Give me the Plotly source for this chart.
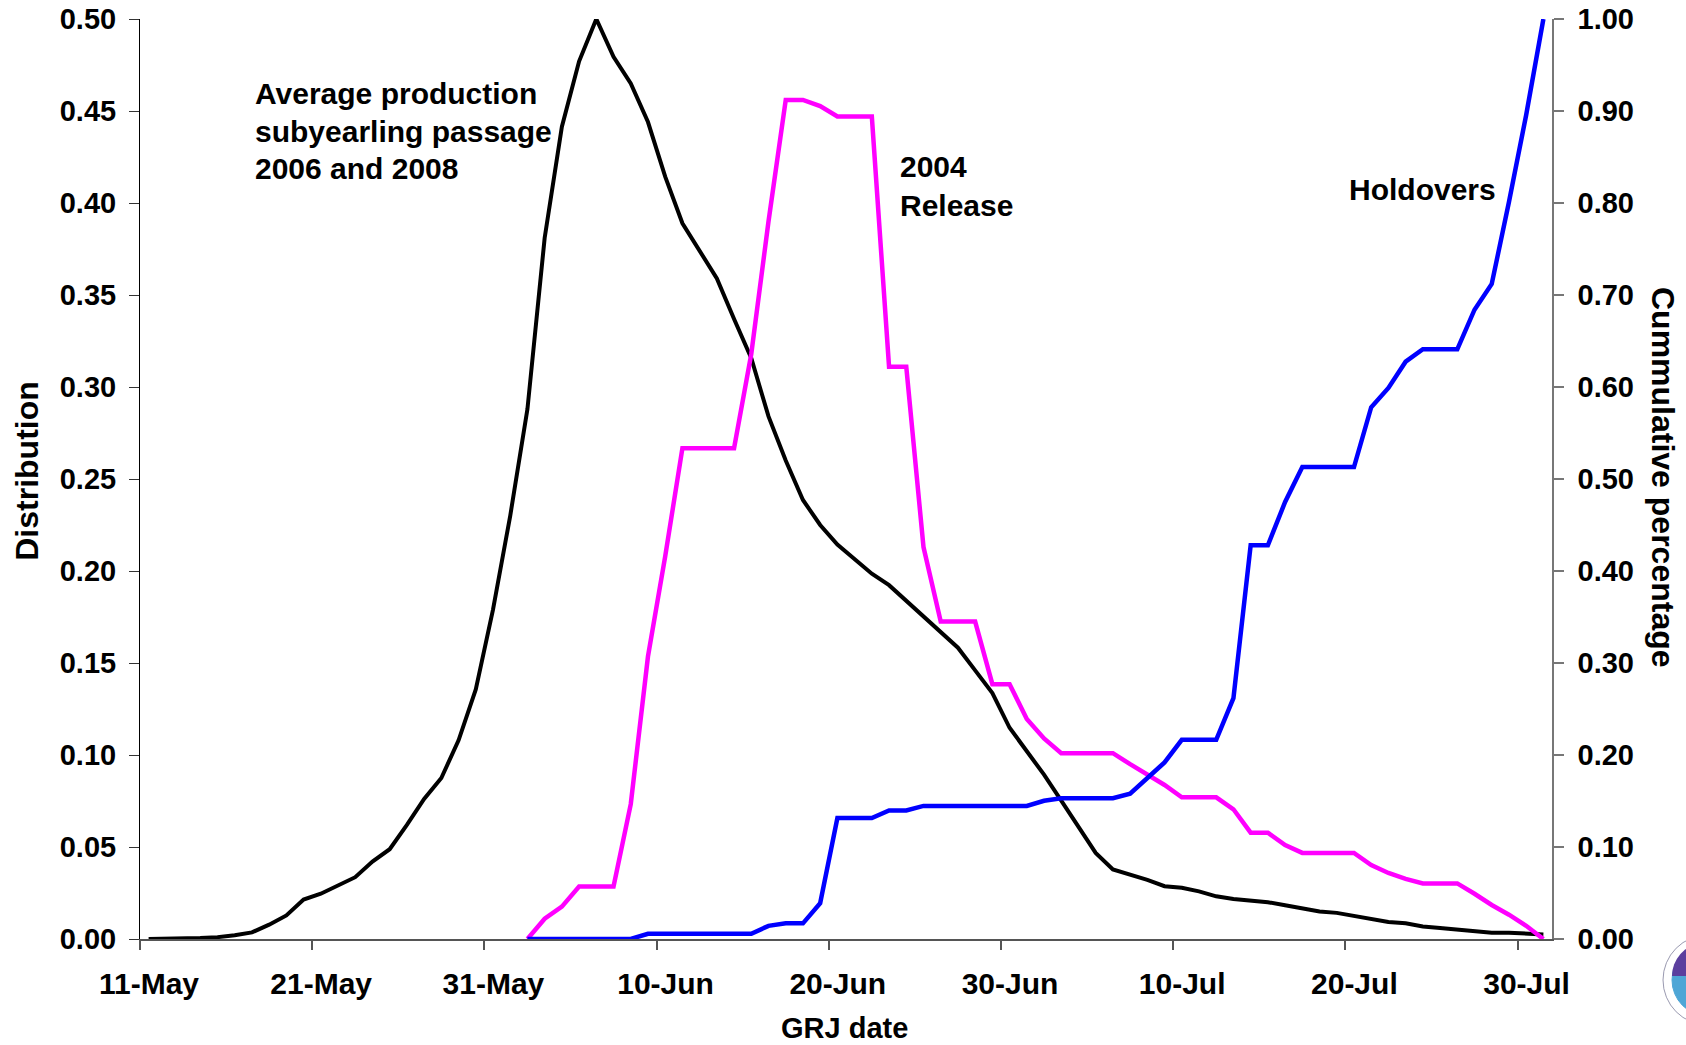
import math
import datetime as dt
import plotly.graph_objects as go

# ---------------- data ----------------
start_date = dt.date(2008, 5, 11)
n_days = 82  # 11-May .. 31-Jul

avg_production = [
    0.0, 0.0, 0.0, 0.0005, 0.001, 0.002, 0.0036, 0.0078, 0.0128, 0.0214,
    0.0246, 0.0289, 0.0336, 0.0421, 0.0488, 0.062, 0.0761, 0.0875, 0.108, 0.1356,
    0.179, 0.230, 0.288, 0.381, 0.4415, 0.477, 0.500, 0.4795, 0.465, 0.444,
    0.4143, 0.389, 0.374, 0.359, 0.337, 0.3156, 0.284, 0.260, 0.2386, 0.225,
    0.2144, 0.2065, 0.1985, 0.1923, 0.1838, 0.1753, 0.1668, 0.1583, 0.146, 0.1337,
    0.1148, 0.1025, 0.0893, 0.0752, 0.061, 0.0468, 0.0378, 0.035, 0.0321, 0.0287,
    0.0278, 0.0259, 0.0232, 0.0217, 0.021, 0.020, 0.0183, 0.0166, 0.0149, 0.0142,
    0.0125, 0.0108, 0.0092, 0.0085, 0.0068, 0.006, 0.0051, 0.0043, 0.0034, 0.0034,
    0.0027, 0.0025,
]

release_offset = 22  # first day of the 2004 release / holdover series (2-Jun)
release_2004 = [
    0.0, 0.011, 0.0176, 0.0285, 0.0285, 0.0285, 0.0733, 0.1536, 0.208, 0.2667,
    0.2667, 0.2667, 0.2667, 0.318, 0.39, 0.456, 0.456, 0.4527, 0.447, 0.447,
    0.447, 0.311, 0.311, 0.213, 0.1725, 0.1725, 0.1725, 0.1385, 0.1385, 0.1196,
    0.109, 0.101, 0.101, 0.101, 0.101, 0.095, 0.0893, 0.0837, 0.077, 0.077,
    0.077, 0.0705, 0.0578, 0.0578, 0.051, 0.0468, 0.0468, 0.0468, 0.0468, 0.0402,
    0.0359, 0.0327, 0.0302, 0.0302, 0.0302, 0.0246, 0.0185, 0.0132, 0.0072, 0.0,
]

holdovers = [
    0.0, 0.0, 0.0, 0.0, 0.0, 0.0, 0.0, 0.0057, 0.0057, 0.0057,
    0.0057, 0.0057, 0.0057, 0.0057, 0.0143, 0.017, 0.017, 0.0389, 0.1315, 0.1315,
    0.1315, 0.1398, 0.1398, 0.1447, 0.1447, 0.1447, 0.1447, 0.1447, 0.1447, 0.1447,
    0.1503, 0.153, 0.153, 0.153, 0.153, 0.158, 0.175, 0.192, 0.2165, 0.2165,
    0.2165, 0.2618, 0.428, 0.428, 0.475, 0.513, 0.513, 0.513, 0.513, 0.578,
    0.599, 0.6275, 0.641, 0.641, 0.641, 0.684, 0.712, 0.801, 0.8957, 1.0,
]

left_ticks = [0.0, 0.05, 0.10, 0.15, 0.20, 0.25, 0.30, 0.35, 0.40, 0.45, 0.50]
right_ticks = [0.0, 0.1, 0.2, 0.3, 0.4, 0.5, 0.6, 0.7, 0.8, 0.9, 1.0]

avg_label_lines = ["Average production", "subyearling passage", "2006 and 2008"]

# dates (points plotted at mid-day, as in the original date axis)
all_dates = [dt.datetime.combine(start_date + dt.timedelta(days=i), dt.time(12)) for i in range(n_days)]
release_dates = all_dates[release_offset:]

FONT = "Liberation Sans, Arial, sans-serif"

fig = go.Figure()
fig.add_trace(go.Scatter(x=all_dates, y=avg_production, mode="lines",
                         line=dict(color="black", width=4), name="Average production",
                         yaxis="y"))
fig.add_trace(go.Scatter(x=release_dates, y=release_2004, mode="lines",
                         line=dict(color="#ff00ff", width=4.5), name="2004 Release",
                         yaxis="y"))
fig.add_trace(go.Scatter(x=release_dates, y=holdovers, mode="lines",
                         line=dict(color="#0000ff", width=4.5), name="Holdovers",
                         yaxis="y2"))

ytick_font = dict(family=FONT, size=29, color="black", weight="bold")
xtick_font = dict(family=FONT, size=30, color="black", weight="bold")

fig.update_layout(
    width=1686, height=1045,
    margin=dict(l=140, r=134, t=19, b=106, autoexpand=False),
    paper_bgcolor="white", plot_bgcolor="white",
    showlegend=False,
    font=dict(family=FONT, color="black"),
    xaxis=dict(
        type="date",
        range=[dt.datetime.combine(start_date, dt.time(0)),
               dt.datetime.combine(start_date + dt.timedelta(days=n_days), dt.time(0))],
        tick0=dt.datetime.combine(start_date, dt.time(0)),
        dtick=10 * 86400000,
        tickformat="%-d-%b",
        ticks="outside", ticklen=9, tickcolor="#555555", tickwidth=1.5,
        showline=True, linecolor="#555555", linewidth=1.5,
        showgrid=False, zeroline=False, automargin=False,
        tickfont=xtick_font,
        ticklabelshift=9,
        ticklabelstandoff=8,
        ticklabeloverflow="allow",
    ),
    yaxis=dict(
        range=[0, 0.5], tickvals=left_ticks, tickformat=".2f",
        ticks="outside", ticklen=10, tickcolor="#333333", tickwidth=1,
        showline=True, linecolor="black", linewidth=1,
        showgrid=False, zeroline=False, automargin=False,
        tickfont=ytick_font, ticklabelstandoff=7,
        ticklabeloverflow="allow",
    ),
    yaxis2=dict(
        range=[0, 1], tickvals=right_ticks, tickformat=".2f",
        overlaying="y", side="right",
        ticks="outside", ticklen=10, tickcolor="#777777", tickwidth=1.5,
        showline=True, linecolor="#777777", linewidth=1.5,
        showgrid=False, zeroline=False, automargin=False,
        tickfont=ytick_font, ticklabelstandoff=8,
        ticklabeloverflow="allow",
    ),
    yaxis3=dict(
        range=[0, 1], tickvals=right_ticks,
        overlaying="y", side="right", anchor="x",
        ticks="inside", ticklen=10, tickcolor="#777777", tickwidth=1.5,
        showticklabels=False, showline=False, showgrid=False, zeroline=False,
        automargin=False,
    ),
)

ann_font = dict(family=FONT, size=30, color="black", weight="bold")
xtitle_font = dict(family=FONT, size=29, color="black", weight="bold")
ytitle_font = dict(family=FONT, size=32, color="black", weight="bold")

for line_text, ypos in zip(avg_label_lines, [0.919, 0.878, 0.838]):
    fig.add_annotation(xref="paper", yref="paper", x=0.080, y=ypos,
                       xanchor="left", yanchor="middle", align="left", showarrow=False,
                       text=line_text, font=ann_font)
fig.add_annotation(xref="paper", yref="paper", x=0.537, y=0.818,
                   xanchor="left", yanchor="middle", align="left", showarrow=False,
                   text="2004<br>Release", font=ann_font)
fig.add_annotation(xref="paper", yref="paper", x=0.855, y=0.815,
                   xanchor="left", yanchor="middle", align="left", showarrow=False,
                   text="Holdovers", font=ann_font)

# axis titles
fig.add_annotation(xref="paper", yref="paper", x=-0.0800, y=0.509,
                   xanchor="center", yanchor="middle", showarrow=False, textangle=-90,
                   text="Distribution", font=ytitle_font)
fig.add_annotation(xref="paper", yref="paper", x=1.079, y=0.5016,
                   xanchor="center", yanchor="middle", showarrow=False, textangle=90,
                   text="Cummulative percentage", font=ytitle_font)
fig.add_annotation(xref="paper", yref="paper", x=0.4986, y=-0.0967,
                   xanchor="center", yanchor="middle", showarrow=False,
                   text="GRJ date", font=xtitle_font)

# partial agency logo in the bottom-right corner (decoration)
PLOT_W, PLOT_H = 1412.0, 920.0
def px_to_paper(px, py):
    return (px - 140) / PLOT_W, (939 - py) / PLOT_H

cx, cy = 1708, 980
for r, fill, line in [(45, "white", "#9a9ab0"), (36, "#4ea6d6", "#4ea6d6")]:
    x0, y0 = px_to_paper(cx - r, cy + r)
    x1, y1 = px_to_paper(cx + r, cy - r)
    fig.add_shape(type="circle", xref="paper", yref="paper", x0=x0, y0=y0, x1=x1, y1=y1,
                  fillcolor=fill, line=dict(color=line, width=1), layer="above")
# purple upper cap of the inner disc
pts = []
for k in range(0, 181, 10):
    a = math.radians(180 + k)
    pts.append(px_to_paper(cx + 36 * math.cos(a), cy + 36 * math.sin(a) * 0.95 - 4))
path = "M " + " L ".join(f"{x:.5f},{y:.5f}" for x, y in pts) + " Z"
fig.add_shape(type="path", xref="paper", yref="paper", path=path,
              fillcolor="#5b3f9e", line=dict(width=0), layer="above")

# remove the default 8px page margin so the figure fills the window exactly
fig.write_html("out.html", config={"displayModeBar": False},
               post_script="document.body.style.margin='0px';")
